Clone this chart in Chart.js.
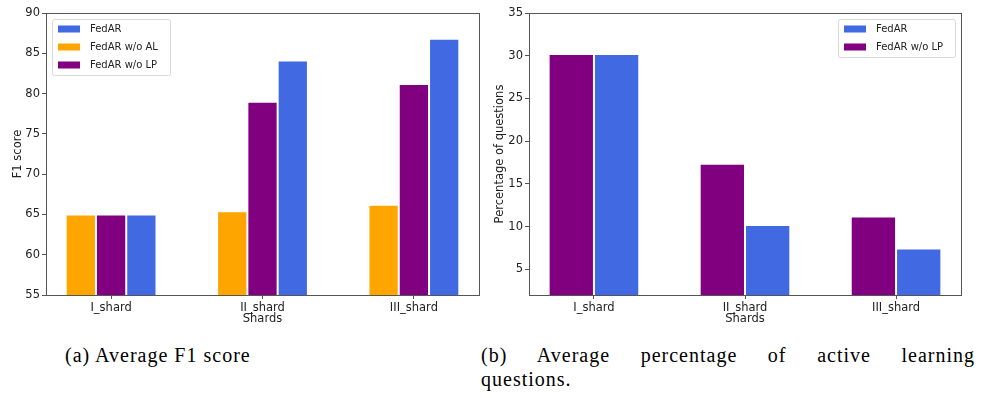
<!DOCTYPE html>
<html>
<head>
<meta charset="utf-8">
<script src="https://cdn.jsdelivr.net/npm/chart.js@4"></script>
<style>
    body { margin: 0; width: 988px; height: 398px; background: #fff; position: relative; overflow: hidden; }
    .wrap { position: absolute; top: 0; height: 335px; }
    #left { left: 0; width: 488px; }
    #right { left: 488px; width: 500px; }
    .cap { position: absolute; font-family: "Liberation Serif", serif; font-size: 20px; line-height: 24px; color: #000; letter-spacing: 1px; }
    #capA { left: 65px; top: 343px; }
    #capB { left: 481px; top: 343px; width: 494px; }
    #capB .l1 { display: block; text-align: justify; text-align-last: justify; }
</style>
</head>
<body>
<div class="wrap" id="left"><canvas id="f1"></canvas></div>
<div class="wrap" id="right"><canvas id="pct"></canvas></div>
<div class="cap" id="capA">(a) Average F1 score</div>
<div class="cap" id="capB"><span class="l1">(b) Average percentage of active learning</span>questions.</div>
<script>
Chart.defaults.animation = false
Chart.defaults.font.family = '"DejaVu Sans", sans-serif'
Chart.defaults.color = '#222'
Chart.defaults.maintainAspectRatio = false

const shards = ['I_shard', 'II_shard', 'III_shard']

// (a) F1 score
const f1FedAR = [65.0, 84.1, 86.8]
const f1WithoutAL = [65.0, 65.4, 66.2]
const f1WithoutLP = [65.0, 79.0, 81.2]
const f1Ticks = [55, 60, 65, 70, 75, 80, 85, 90]

// (b) Percentage of active learning questions
const pctFedAR = [30.2, 10.2, 7.45]
const pctWithoutLP = [30.2, 17.35, 11.2]
const pctTicks = [5, 10, 15, 20, 25, 30, 35]

const colors = {
    'FedAR': '#4169e1',
    'FedAR w/o AL': '#ffa500',
    'FedAR w/o LP': '#800080',
}

const axisColor = '#555'

// Рамка вокруг области графика, как у matplotlib.
const frame = {
    id: 'frame',
    afterDraw(chart) {
        const { ctx, chartArea: a } = chart
        ctx.save()
        ctx.strokeStyle = axisColor
        ctx.lineWidth = 1
        ctx.strokeRect(Math.round(a.left) + 0.5, Math.round(a.top) + 0.5, Math.round(a.right - a.left), Math.round(a.bottom - a.top))
        ctx.restore()
    },
}

// Легенда в рамке внутри области графика.
const boxLegend = {
    id: 'boxLegend',
    afterDraw(chart, args, opts) {
        const { ctx, chartArea: a } = chart
        const items = opts.order.map(label => chart.data.datasets.find(d => d.label === label))
        ctx.save()
        ctx.font = '10px "DejaVu Sans"'
        const textW = Math.max(...items.map(d => ctx.measureText(d.label).width))
        const w = Math.round(6 + 22 + 10 + textW + 12)
        const h = 20 + 18 * (items.length - 1)
        const x = Math.round(opts.align === 'right' ? a.right - 6 - w : a.left + 6)
        const y = Math.round(a.top + 6)
        ctx.fillStyle = 'rgba(255,255,255,0.8)'
        ctx.strokeStyle = '#d8d8d8'
        ctx.lineWidth = 1
        ctx.beginPath()
        ctx.roundRect(x + 0.5, y + 0.5, w, h, 2)
        ctx.fill()
        ctx.stroke()
        items.forEach((d, i) => {
            const cy = y + 10 + i * 18
            ctx.fillStyle = d.backgroundColor
            ctx.fillRect(x + 6, cy - 3.5, 22, 7)
            ctx.fillStyle = '#222'
            ctx.textBaseline = 'middle'
            ctx.fillText(d.label, x + 38, cy)
        })
        ctx.restore()
    },
}

function dataset(label, values) {
    return {
        label,
        data: values.map((v, i) => ({ x: i, y: v })),
        backgroundColor: colors[label],
        borderColor: 'rgba(255,255,255,0.75)',
        borderWidth: 1,
        categoryPercentage: 0.6,
        barPercentage: 1,
    }
}

function options(o) {
    return {
        responsive: true,
        layout: { padding: { top: 13, right: o.padRight, left: 0, bottom: 0 } },
        plugins: {
            legend: { display: false },
            tooltip: { enabled: false },
            boxLegend: { order: o.legendOrder, align: o.legendAlign },
        },
        scales: {
            x: {
                type: 'linear',
                offset: false,
                min: -0.43,
                max: 2.43,
                afterBuildTicks: s => { s.ticks = shards.map((_, i) => ({ value: i })) },
                afterFit: s => { s.height = 40 },
                ticks: {
                    callback: v => shards[v],
                    font: { size: 11.5 },
                    padding: 2,
                    maxRotation: 0,
                    autoSkip: false,
                },
                grid: { offset: false, drawOnChartArea: false, tickLength: 4, color: axisColor },
                border: { display: false },
                title: { display: true, text: 'Shards', font: { size: 11.5 }, padding: { top: 0, bottom: 9 } },
            },
            y: {
                min: o.yMin,
                max: o.yMax,
                afterBuildTicks: s => { s.ticks = o.yTicks.map(v => ({ value: v })) },
                afterFit: s => { s.width = o.yWidth },
                ticks: { font: { size: 11.5 }, padding: 2 },
                grid: { drawOnChartArea: false, tickLength: 4, color: axisColor },
                border: { display: false },
                title: { display: true, text: o.yTitle, font: { size: 11.5 }, padding: { top: o.titlePad, bottom: 0 } },
            },
        },
    }
}

new Chart(document.querySelector('#f1'), {
    type: 'bar',
    data: {
        datasets: [
            dataset('FedAR w/o AL', f1WithoutAL),
            dataset('FedAR w/o LP', f1WithoutLP),
            dataset('FedAR', f1FedAR),
        ],
    },
    options: options({
        yMin: 55, yMax: 90, yTicks: f1Ticks, yTitle: 'F1 score', yWidth: 46, titlePad: 11, padRight: 9,
        legendOrder: ['FedAR', 'FedAR w/o AL', 'FedAR w/o LP'], legendAlign: 'left',
    }),
    plugins: [frame, boxLegend],
})

new Chart(document.querySelector('#pct'), {
    type: 'bar',
    data: {
        datasets: [
            dataset('FedAR w/o LP', pctWithoutLP),
            dataset('FedAR', pctFedAR),
        ],
    },
    options: options({
        yMin: 2, yMax: 35, yTicks: pctTicks, yTitle: 'Percentage of questions', yWidth: 41, titlePad: 5.6, padRight: 27,
        legendOrder: ['FedAR', 'FedAR w/o LP'], legendAlign: 'right',
    }),
    plugins: [frame, boxLegend],
})
</script>
</body>
</html>
